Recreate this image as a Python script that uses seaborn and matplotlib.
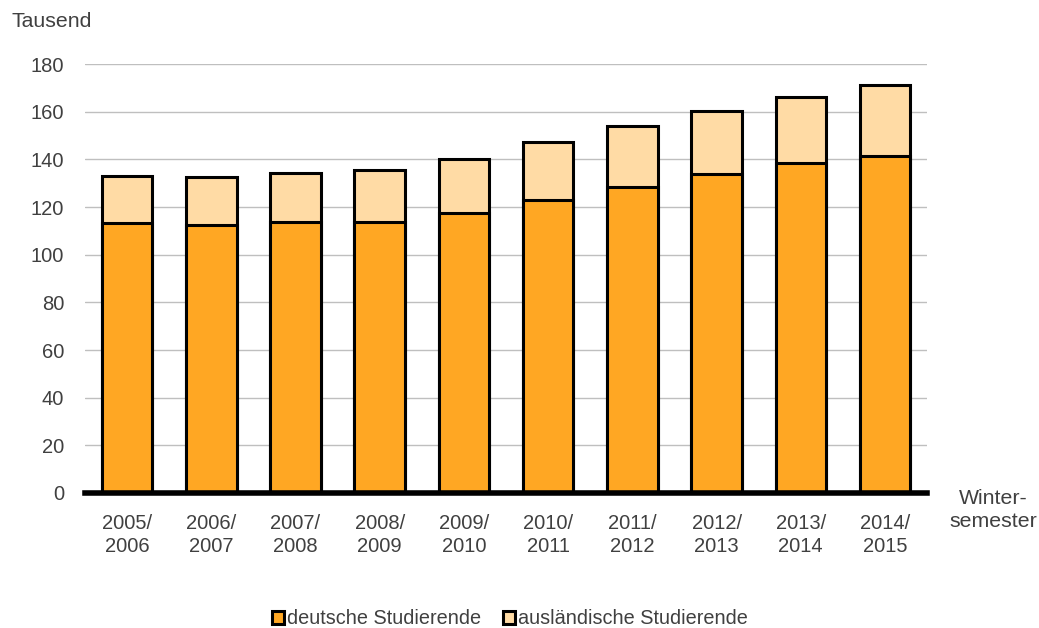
import pandas as pd
import matplotlib.pyplot as plt
import seaborn as sns

# Werte in Tausend
semester = ['2005/\n2006', '2006/\n2007', '2007/\n2008', '2008/\n2009', '2009/\n2010',
            '2010/\n2011', '2011/\n2012', '2012/\n2013', '2013/\n2014', '2014/\n2015']
deutsche = [113.2, 112.5, 113.6, 113.6, 117.6, 123.0, 128.5, 134.0, 138.3, 141.5]
gesamt = [133.0, 132.7, 134.4, 135.4, 140.0, 147.2, 153.9, 160.2, 166.0, 171.3]
auslaendische = [g - d for g, d in zip(gesamt, deutsche)]

df = pd.DataFrame({'semester': semester, 'deutsche': deutsche,
                   'auslaendische': auslaendische, 'gesamt': gesamt})

sns.set_style('white')
plt.rcParams['font.family'] = ['Liberation Sans', 'DejaVu Sans']
txt = '#404040'

fig = plt.figure(figsize=(10.39, 6.28), dpi=100)
ax = fig.add_axes([0.0818, 0.215, 0.8105, 0.683])

# gestapelt: erst Gesamtbalken (hell), dann deutsche Studierende darüber
sns.barplot(data=df, x='semester', y='gesamt', color='#FFDBA5', width=0.6,
            edgecolor='black', linewidth=2.2, saturation=1, ax=ax,
            label='ausländische Studierende', legend=False)
sns.barplot(data=df, x='semester', y='deutsche', color='#FFA723', width=0.6,
            edgecolor='black', linewidth=2.2, saturation=1, ax=ax,
            label='deutsche Studierende', legend=False)

ax.set_ylim(0, 180)
ax.set_xlim(-0.5, len(semester) - 0.5)
ax.set_yticks(range(0, 181, 20))
ax.yaxis.grid(True, color='#BFBFBF', linewidth=1)
ax.set_axisbelow(True)
for s in ['top', 'right', 'left']:
    ax.spines[s].set_visible(False)
ax.spines['bottom'].set_linewidth(4)
ax.spines['bottom'].set_color('black')
ax.tick_params(axis='both', length=0, labelsize=14.5, labelcolor=txt)
ax.tick_params(axis='x', pad=15)
ax.tick_params(axis='y', pad=15)
for t in ax.get_xticklabels():
    t.set_linespacing(1.3)
ax.set_xlabel('')
ax.set_ylabel('')

handles, labels = ax.get_legend_handles_labels()
if ax.get_legend() is not None:
    ax.get_legend().remove()

fig.text(0.011, 0.965, 'Tausend', fontsize=15.3, color=txt, va='center')
fig.text(0.956, 0.188, 'Winter-\nsemester', fontsize=15.3, color=txt,
         ha='center', va='center', linespacing=1.28)

order = [labels.index('deutsche Studierende'), labels.index('ausländische Studierende')]
fig.legend([handles[i] for i in order], [labels[i] for i in order],
           loc='center', bbox_to_anchor=(0.491, 0.0145), ncol=2,
           frameon=False, fontsize=14.3, labelcolor=txt,
           handlelength=0.6, handleheight=0.6, handletextpad=0.15,
           columnspacing=1.1)

fig.savefig('out.png', dpi=100)
